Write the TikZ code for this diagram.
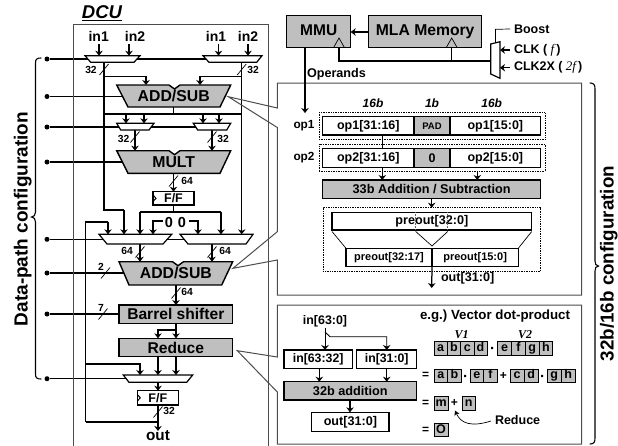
\documentclass[tikz,border=0pt]{standalone}
\usepackage{fontspec}
\setmainfont{Liberation Sans}
\newfontfamily\lserif{Liberation Serif}
\usetikzlibrary{arrows.meta}
\pgfdeclarelayer{wires}
\pgfsetlayers{wires,main}
\frenchspacing
\newcommand{\fs}[1]{\fontsize{#1}{#1}\selectfont}
\definecolor{blockgray}{gray}{0.75}
\definecolor{framegray}{gray}{0.3}
\tikzset{
  lab/.style={inner sep=0pt,outer sep=0pt,font=\bfseries\fs{#1}},
  hold/.style={inner sep=0pt,outer sep=0pt},
  wireline/.style={line width=1.25pt,draw=black},
  wirearrow/.style={wireline,-{Stealth[length=5pt,width=7.5pt]}},
  thinline/.style={line width=0.7pt,draw=black},
  blockw/.style={draw=black,line width=1.4pt,fill=white,inner sep=0pt,outer sep=0pt},
  blockg/.style={blockw,fill=blockgray},
  dotbox/.style={draw=black,line width=0.7pt,densely dotted,inner sep=0pt,outer sep=0pt},
  ctrldot/.style={circle,fill=black,inner sep=0pt,minimum size=5pt},
  cellbox/.style={draw=black,line width=0.7pt,fill=blockgray,inner sep=0pt,outer sep=0pt,text height=9pt,text depth=2.6pt,font=\bfseries\fs{12.5}},
  frame/.style={draw=framegray,line width=1pt,fill=none},
  brace/.style={draw=black,line width=1.1pt,line cap=round}
}
% box by corners: style, name, x1, x2, y1, y2, text
\newcommand{\cbox}[7]{\node[#1,minimum width={(#4-#3)*1pt},minimum height={(#6-#5)*1pt}] (#2) at ({(#3+#4)/2},{(#5+#6)/2}) {#7};}
% mux trapezium: name, tl, tr, bl, br, yt, yb
\newcommand{\mux}[7]{\draw[line width=1.2pt,fill=white] (#2,#6) -- (#3,#6) -- (#5,#7) -- (#4,#7) -- cycle;
  \cbox{hold}{#1}{#2}{#3}{#6}{#7}{}}
% ALU trapezium with notch: name, tl, tr, bl, br, yt, yb, notch x, text
\newcommand{\alu}[9]{\draw[line width=1.4pt,fill=blockgray] (#2,#6) -- ({#8-5.5},#6) -- (#8,{#6+4}) -- ({#8+5.5},#6) -- (#3,#6) -- (#5,#7) -- (#4,#7) -- cycle;
  \cbox{hold,font=\bfseries\fs{15.8}}{#1}{#2}{#3}{#6}{#7}{#9}}
% bus slash: x, y
\newcommand{\busmark}[2]{\draw[thinline] ({#1-4.5},{#2+5.5}) -- ({#1+4.5},{#2-5.5});}
% row of cells: prefix, x1, cell width, y1, y2, list
\newcommand{\cellrow}[6]{\foreach \t [count=\i from 0] in {#6} {
  \node[cellbox,minimum width={#3*1pt},minimum height={(#5-#4)*1pt}] (#1\i) at ({#2+(\i+0.5)*#3},{(#4+#5)/2}) {\t};}}
\begin{document}
\begin{tikzpicture}[x=1pt,y=-1pt]
\useasboundingbox (0,0) rectangle (618,445);
% column coordinates
\foreach \n/\v in {85/85.5,99/99,104/104,108/108,124/124,126/126,129/129,135/135,140/140,144/144,146/146,153/153,158/158,165/163,174/173.5,176/176,190/189,198/198,200/200,203/203,212/212,219/219,221/221,218/218.5,242/241.7,248/248,305/305,319/319.3,325/325,330/330,339/339,350/350,382/382.3,387/386.7,432/431.7,452/451.7,477/477.3,495/495.5}{\coordinate (x\n) at (\v,0);}
% frames
\draw[frame] (73.5,445.5) -- (73.5,24) -- (268.5,24) -- (268.5,445.5);
\node[lab=18.5,font=\bfseries\itshape\fs{18.5}] (dcu) at (102,13) {\underline{DCU}};
\draw[frame] (277.3,83) -- (581.7,83) -- (581.7,295) -- (277.3,295) -- (277.3,260) -- (233,268.3) -- (277.3,231.7) -- (277.3,127.5) -- (228.3,96.7) -- (277.3,108) -- cycle;
\draw[frame] (277.3,305) -- (581.7,305) -- (581.7,444) -- (277.3,444) -- (277.3,392) -- (237.3,350.7) -- (277.3,357) -- cycle;
% braces
\draw[brace] (41,58) .. controls (37,58) and (35.5,59) .. (35.5,63) -- (35.5,212) .. controls (35.5,215) and (34,217) .. (31.5,217) .. controls (34,217) and (35.5,219) .. (35.5,222) -- (35.5,374) .. controls (35.5,378) and (37,379) .. (41,379);
\draw[brace] (590,83) .. controls (594,83) and (595,85) .. (595,89) -- (595,261) .. controls (595,264) and (596,266) .. (598.5,266) .. controls (596,266) and (595,268) .. (595,271) -- (595,438) .. controls (595,442) and (594,444) .. (590,444);
\node[lab=19,rotate=90] (ldp) at (22.8,219) {Data-path configuration};
\node[lab=18.8,rotate=90] (lbc) at (608.8,263.5) {32b/16b configuration};
% inputs
\node[lab=14] (ia1) at (98.7,36) {in1};
\node[lab=14] (ia2) at (135,36) {in2};
\node[lab=14] (ib1) at (216,36) {in1};
\node[lab=14] (ib2) at (248,36) {in2};
% muxes and blocks
\mux{m1}{85}{140}{90.7}{134}{55.7}{62.3}
\mux{m2}{203}{262}{209}{256.7}{55.7}{62.3}
\alu{a1}{116.7}{230.7}{128}{220}{85}{107}{174.5}{ADD/SUB}
\mux{m3}{116.7}{154}{120.7}{149}{123.3}{130}
\mux{m4}{193.3}{230.7}{197.7}{226.7}{123.3}{130}
\alu{a2}{116.7}{230.7}{128}{220}{150.7}{173.3}{174.5}{MULT}
\cbox{blockw,font=\bfseries\fs{12.5}}{ff1}{153}{194}{191.7}{205}{F/F}
\draw[line width=1pt] (153,195) -- (156,198.3) -- (153,201.6);
\node[lab=14.5] (z1) at (169,223) {0};
\node[lab=14.5] (z2) at (182,223) {0};
\mux{m5}{99}{171.7}{107}{163}{234.3}{244}
\mux{m6}{180}{253}{188}{246}{234.3}{244}
\alu{a3}{119}{232.7}{129}{221.7}{261.7}{285}{178}{ADD/SUB}
\cbox{blockg,font=\bfseries\fs{15.6}}{bs}{119}{232.7}{305}{323.3}{Barrel shifter}
\cbox{blockg,font=\bfseries\fs{15.6}}{rd}{119}{232.7}{338.3}{356.7}{Reduce}
\mux{m7}{123.3}{192.7}{129}{186.7}{375}{382.3}
\cbox{blockw,font=\bfseries\fs{12.5}}{ff2}{137.3}{178.3}{390.7}{405}{F/F}
\draw[line width=1pt] (137.3,394.5) -- (140.3,397.8) -- (137.3,401.1);
\node[lab=15.3] (out) at (158,436) {out};
% control dots
\node[ctrldot] (c1) at (47,59) {};
\node[ctrldot] (c2) at (47,96.5) {};
\node[ctrldot] (c3) at (47,127) {};
\node[ctrldot] (c4) at (47,162) {};
\node[ctrldot] (c5) at (47,239.3) {};
\node[ctrldot] (c6) at (47,273) {};
\node[ctrldot] (c7) at (47,314) {};
\node[ctrldot] (c8) at (47,378.7) {};
% junctions
\coordinate (j1) at (104,76.5);
\coordinate (j2) at (241.7,76.5);
\coordinate (j3) at (104,114);
\coordinate (j4) at (241.7,114);
\coordinate (j5) at (173.5,114);
\coordinate (j6) at (104,210);
\coordinate (j7) at (124,210);
\coordinate (j8) at (173.5,212);
\coordinate (j9) at (85.5,222);
\coordinate (j10) at (108,222);
\coordinate (j11) at (153,221);
\coordinate (j12) at (163,221);
\coordinate (j13) at (198,221);
\coordinate (j14) at (189,221);
\coordinate (j15) at (140,212);
\coordinate (j16) at (221,212);
\coordinate (j17) at (85.5,364);
\coordinate (j18) at (140,364);
\coordinate (j19) at (85.5,422);
\coordinate (j20) at (158,422);
\coordinate (j21) at (176,330);
\coordinate (j22) at (158,330);
\begin{pgfonlayer}{wires}
\draw[wireline] (c1) -- (m2 |- c1);
\draw[wireline] (c2) -- (a1 |- c2);
\draw[wireline] (c3) -- (m4 |- c3);
\draw[wireline] (c4) -- (a2 |- c4);
\draw[wireline] (c5) -- (m6 |- c5);
\draw[wireline] (c6) -- (a3 |- c6);
\draw[wireline] (c7) -- (bs |- c7);
\draw[wireline] (c8) -- (m7 |- c8);
\draw[wireline] (m1.south -| x104) -- (j6) -- (j7);
\draw[wirearrow] (j7) -- (m5.north -| x124);
\draw[wirearrow] (j1) -| (a1.north -| x146);
\draw[wirearrow] (j2) -| (a1.north -| x200);
\draw[wireline] (m2.south -| x242) -- (j4);
\draw[wirearrow] (j4) -- (m6.north -| x242);
\draw[wireline] (a1.south -| x174) -- (j5);
\draw[wireline] (j3) -- (j4);
\draw[wirearrow] (m3.north -| x126) ++(0,-9.3) -- (m3.north -| x126);
\draw[wirearrow] (m3.north -| x144) ++(0,-9.3) -- (m3.north -| x144);
\draw[wirearrow] (m4.north -| x203) ++(0,-9.3) -- (m4.north -| x203);
\draw[wirearrow] (m4.north -| x219) ++(0,-9.3) -- (m4.north -| x219);
\draw[wirearrow] (m3.south -| x135) -- (a2.north -| x135);
\draw[wirearrow] (m4.south -| x212) -- (a2.north -| x212);
\draw[wirearrow] (a2.south -| x174) -- (ff1.north -| x174);
\draw[wireline] (ff1.south -| x174) -- (j8);
\draw[wireline] (j15) -- (j16);
\draw[wirearrow] (j15) -- (m5.north -| x140);
\draw[wirearrow] (j16) -- (m6.north -| x221);
\draw[wireline] (j19) -- (j9) -- (j10);
\draw[wirearrow] (j10) -- (m5.north -| x108);
\draw[wirearrow] (j12) -- (j11) -- (m5.north -| x153);
\draw[wirearrow] (j14) -- (j13) -- (m6.north -| x198);
\draw[wirearrow] (m5.south -| x140) -- (a3.north -| x140);
\draw[wirearrow] (m6.south -| x212) -- (a3.north -| x212);
\draw[wirearrow] (a3.south -| x176) -- (bs.north -| x176);
\draw[wirearrow] (bs.south -| x176) -- (rd.north -| x176);
\draw[wirearrow] (j21) -- (j22) -- (rd.north -| x158);
\draw[wirearrow] (rd.south -| x158) -- (m7.north -| x158);
\draw[wirearrow] (rd.south -| x176) -- (m7.north -| x176);
\draw[wirearrow] (j17) -- (j18) -- (m7.north -| x140);
\draw[wirearrow] (m7.south -| x158) -- (ff2.north -| x158);
\draw[wirearrow] (ff2.south -| x158) -- (out.north);
\draw[wireline] (j19) -- (j20);
\end{pgfonlayer}
\draw[wirearrow] (ia1.south -| x99) ++(0,3) -- (m1.north -| x99);
\draw[wirearrow] (ia2.south -| x129) ++(0,3) -- (m1.north -| x129);
\draw[wirearrow] (ib1.south -| x218) ++(0,3) -- (m2.north -| x218);
\draw[wirearrow] (ib2.south -| x248) ++(0,3) -- (m2.north -| x248);
% bus marks and widths
\busmark{104}{69.5}\node[lab=10.3] (w1) at (91,70) {32};
\busmark{241.7}{69.5}\node[lab=10.3] (w2) at (253,70) {32};
\busmark{135}{137}\node[lab=10.3] (w3) at (123.5,139) {32};
\busmark{212}{137}\node[lab=10.3] (w4) at (223,139) {32};
\busmark{173.5}{181}\node[lab=10.3] (w5) at (187,181) {64};
\busmark{140}{252}\node[lab=10.3] (w6) at (127,251) {64};
\busmark{212}{252}\node[lab=10.3] (w7) at (225,251) {64};
\busmark{105.5}{273}\node[lab=10.3] (w8) at (101,267) {2};
\busmark{176}{293}\node[lab=10.3] (w9) at (187,292) {64};
\busmark{103}{314}\node[lab=10.3] (w10) at (101,308) {7};
\busmark{158}{412}\node[lab=10.3] (w11) at (169,411) {32};
% memory row
\cbox{blockg,font=\bfseries\fs{15.5}}{mmu}{286.7}{350.7}{15.7}{47.7}{\raisebox{4pt}{MMU}}
\cbox{blockg,font=\bfseries\fs{15.7}}{mla}{368.7}{481.7}{15.7}{47.7}{\raisebox{4pt}{MLA Memory}}
\draw[wirearrow] (mla.west |- 0,32) -- (mmu.east |- 0,32);
\draw[thinline] (333.5,47.7) -- (339,38) -- (344.5,47.7);
\draw[thinline] (446.2,47.7) -- (451.7,38) -- (457.2,47.7);
\draw[line width=1.2pt,fill=white] (490.7,44) -- (500,41.7) -- (500,78.3) -- (490.7,74) -- cycle;
\cbox{hold}{clk}{490.7}{500}{41.7}{78.3}{}
\coordinate (j30) at (339,61);
\coordinate (j31) at (451.7,61);
\coordinate (j32) at (495.5,29.3);
\draw[wireline] (mmu.south -| x339) -- (j30) -- (clk.west |- j30);
\draw[wireline] (mla.south -| x452) -- (j31);
\node[lab=12.5,anchor=west] (boost) at (514,29) {Boost};
\node[lab=12.5,anchor=west] (cf) at (514,50) {CLK ({\lserif\itshape\mdseries\fs{13} f\,})};
\node[lab=12.5,anchor=west] (c2f) at (514,67.7) {CLK2X ({\lserif\itshape\mdseries\fs{13} 2f\,})};
\draw[thinline] (clk.north -| x495) ++(0,1.5) -- (j32) -- (boost.west -| 510,0);
\draw[wirearrow] (cf.west -| 510,0) -- (clk.east |- cf.west);
\draw[wirearrow] (c2f.west -| 510,0) -- (clk.east |- c2f.west);
\coordinate (opsend) at (305,113);
\draw[wirearrow] (mmu.south -| x305) -- (opsend);
\node[lab=12.6,anchor=west] (ops) at (307,74) {Operands};
% adder panel
\node[lab=12,font=\bfseries\itshape\fs{12}] (b1) at (373,103) {16b};
\node[lab=12,font=\bfseries\itshape\fs{12}] (b2) at (432,103) {1b};
\node[lab=12,font=\bfseries\itshape\fs{12}] (b3) at (491.7,103) {16b};
\cbox{dotbox}{d1}{319}{545}{112.7}{139.3}{}
\cbox{dotbox}{d2}{319}{545}{144}{171}{}
\node[lab=11.8] (op1) at (304,126) {op1};
\node[lab=11.8] (op2) at (304,158) {op2};
\cbox{blockw,font=\bfseries\fs{12.5}}{o11}{322.7}{414}{116.7}{135}{op1[31:16]}
\cbox{blockg,font=\bfseries\fs{9.5}}{o12}{414}{450}{116.7}{135}{PAD}
\cbox{blockw,font=\bfseries\fs{12.5}}{o13}{450}{540.7}{116.7}{135}{op1[15:0]}
\cbox{blockw,font=\bfseries\fs{12.5}}{o21}{322.7}{414}{148.3}{167.3}{op2[31:16]}
\cbox{blockg,font=\bfseries\fs{12.5}}{o22}{414}{450}{148.3}{167.3}{0}
\cbox{blockw,font=\bfseries\fs{12.5}}{o23}{450}{540.7}{148.3}{167.3}{op2[15:0]}
\cbox{blockg,font=\bfseries\fs{12.7}}{add}{322.7}{540.7}{180}{198.7}{33b Addition / Subtraction}
\cbox{dotbox}{d3}{323.3}{540.7}{207.7}{271}{}
\cbox{blockw,font=\bfseries\fs{12.6}}{pre}{332}{531.7}{212.3}{230}{preout[32:0]}
\cbox{blockw,font=\bfseries\fs{11}}{p1}{346}{432}{248.3}{266.7}{preout[32:17]}
\cbox{blockw,font=\bfseries\fs{11}}{p2}{432}{518.3}{248.3}{266.7}{preout[15:0]}
\draw[wireline] (o11.south -| x382) -- (o21.north -| x382);
\draw[wirearrow] (o21.south -| x382) -- (add.north -| x382);
\draw[wirearrow] (d2.south -| x477) -- (add.north -| x477);
\draw[wirearrow] (add.south -| x432) -- (d3.north -| x432);
\coordinate (pc) at (432,246);
\draw[thinline] (pre.south west) ++(0,1.5) -- (p1.north west);
\draw[thinline] (pre.south east) ++(0,1.5) -- (p2.north east);
\draw[thinline] (415.7,231.5) -- (pc) -- (447.7,231.5);
\draw[line width=0.5pt,densely dotted,draw=black!60] (415.7,212.3) -- (415.7,230);
\draw[line width=0.5pt,densely dotted,draw=black!60] (447.7,212.3) -- (447.7,230);
\coordinate (oute) at (431.7,288);
\draw[wirearrow] (p1.south east) -- (oute);
\node[lab=12.6,anchor=west] (pout) at (441,278) {out[31:0]};
% reduce panel
\node[lab=12.4] (rin) at (325,321) {in[63:0]};
\cbox{blockw,font=\bfseries\fs{12.3}}{r1}{284}{352.3}{350}{368.3}{in[63:32]}
\cbox{blockw,font=\bfseries\fs{12.3}}{r2}{356.7}{416.7}{350}{368.3}{in[31:0]}
\cbox{blockg,font=\bfseries\fs{12.7}}{r3}{284}{416.7}{381.7}{400}{32b addition}
\cbox{blockw,font=\bfseries\fs{12.6}}{r4}{311.7}{389}{412.3}{431.7}{out[31:0]}
\coordinate (j40) at (325,332);
\coordinate (j41) at (330,336.7);
\coordinate (j42) at (386.7,336.7);
\draw[wirearrow,line width=0.9pt] (rin.south) ++(0,1) -- (r1.north -| x325);
\draw[wirearrow,line width=0.9pt] (j40) -- (j41) -- (j42) -- (r2.north -| x387);
\draw[wirearrow] (r1.south -| x319) -- (r3.north -| x319);
\draw[wirearrow] (r2.south -| x387) -- (r3.north -| x387);
\draw[wirearrow] (r3.south -| x350) -- (r4.north -| x350);
\node[lab=13.3,anchor=west] (eg) at (420,315.7) {e.g.) Vector dot-product};
\node[font=\lserif\bfseries\itshape\fs{12},inner sep=0pt] (v1) at (461.7,335) {V1};
\node[font=\lserif\bfseries\itshape\fs{12},inner sep=0pt] (v2) at (525,335) {V2};
\cellrow{ra}{434}{13.3}{341}{355}{a,b,c,d}
\cellrow{re}{497.7}{13.75}{341}{355}{e,f,g,h}
\node[lab=15] (dt1) at (492.7,350.5) {·};
\node[lab=12] (eq2) at (425.7,375.5) {=};
\cellrow{sa}{434}{13.65}{369}{382.3}{a,b}
\node[lab=15] (dt2) at (465.7,378) {·};
\cellrow{se}{470}{13.65}{369}{382.3}{e,f}
\node[lab=12] (pl2) at (503.3,375.5) {+};
\cellrow{sc}{510}{14.15}{369}{382.3}{c,d}
\node[lab=15] (dt3) at (542.7,378) {·};
\cellrow{sg}{547.3}{13.85}{369}{382.3}{g,h}
\node[lab=12] (eq3) at (425.7,403) {=};
\cellrow{tm}{434}{14.3}{396}{410}{m}
\node[lab=12] (pl3) at (454.3,403) {+};
\cellrow{tn}{462.3}{12.7}{396}{410}{n}
\node[lab=12] (eq4) at (425.7,430) {=};
\cellrow{uo}{434}{14}{423.3}{436.7}{O}
\node[lab=12.5,anchor=west] (rdl) at (495,420) {Reduce};
\draw[thinline,-{Stealth[length=5pt,width=5.5pt]}] (rdl.west) ++(-4,1) .. controls (472,427) and (461,424) .. (455,410.5);
\end{tikzpicture}
\end{document}
